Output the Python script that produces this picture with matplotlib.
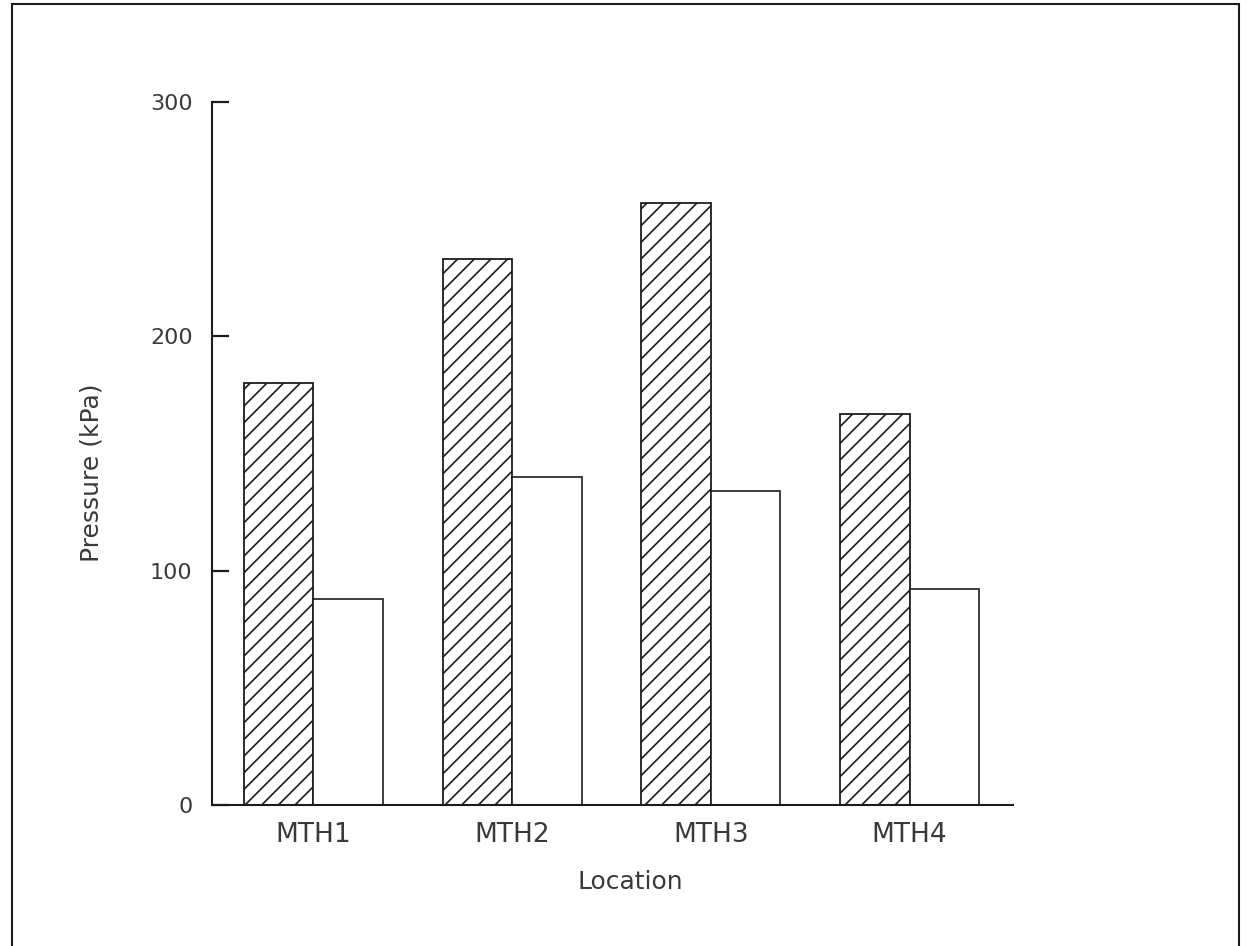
import matplotlib
matplotlib.use("Agg")
import matplotlib.pyplot as plt
import numpy as np
from matplotlib import font_manager
from matplotlib.patches import Rectangle

locations = ["MTH1", "MTH2", "MTH3", "MTH4"]
hatched_kpa = [180, 233, 257, 167]
open_kpa = [88, 140, 134, 92]
y_ticks = [0, 100, 200, 300]

INK = "#1c1c1c"
TEXT = "#3a3a3a"

# a narrow face looks closer to the scanned lettering, if it is there
names = {f.name for f in font_manager.fontManager.ttflist}
FAMILY = ["Liberation Sans Narrow", "DejaVu Sans"] if "Liberation Sans Narrow" in names else ["DejaVu Sans"]
plt.rcParams["font.family"] = FAMILY
plt.rcParams["hatch.linewidth"] = 1.2
plt.rcParams["hatch.color"] = INK

fig = plt.figure(figsize=(12.48, 9.46), dpi=100)
ax = fig.add_axes([212 / 1248, 1 - 805 / 946, (1013 - 212) / 1248, (805 - 102) / 946])

x = np.arange(len(locations))
w = 0.35
ax.bar(x - w / 2, hatched_kpa, w, facecolor="white", edgecolor=INK, hatch="//", linewidth=1.3)
ax.bar(x + w / 2, open_kpa, w, facecolor="white", edgecolor=INK, linewidth=1.2)

ax.set_xlim(-0.51, 3.52)
ax.set_ylim(0, 300)
ax.set_yticks(y_ticks)
ax.set_yticklabels([str(t) for t in y_ticks], fontsize=16, color=TEXT)
ax.set_xticks(x)
ax.set_xticklabels(locations, fontsize=19, color=TEXT)
ax.tick_params(axis="y", direction="in", length=12, width=1.6, color=INK, pad=14)
ax.tick_params(axis="x", length=0, pad=12)

for s in ["top", "right"]:
    ax.spines[s].set_visible(False)
for s in ["left", "bottom"]:
    ax.spines[s].set_color(INK)
    ax.spines[s].set_linewidth(1.5)

fig.text(92 / 1248, 1 - 473 / 946, "Pressure (kPa)", rotation=90, ha="center", va="center",
         fontsize=18, color=TEXT)
fig.text(630 / 1248, 1 - 882 / 946, "Location", ha="center", va="center", fontsize=18, color=TEXT)

# page frame of the scan (left, top, right edges)
fig.patches.append(Rectangle((12 / 1248, -0.05), (1239 - 12) / 1248, 1.05 - 4 / 946,
                             transform=fig.transFigure, fill=False, edgecolor=INK, linewidth=1.5))

fig.savefig("out.png", dpi=100, facecolor="white")
